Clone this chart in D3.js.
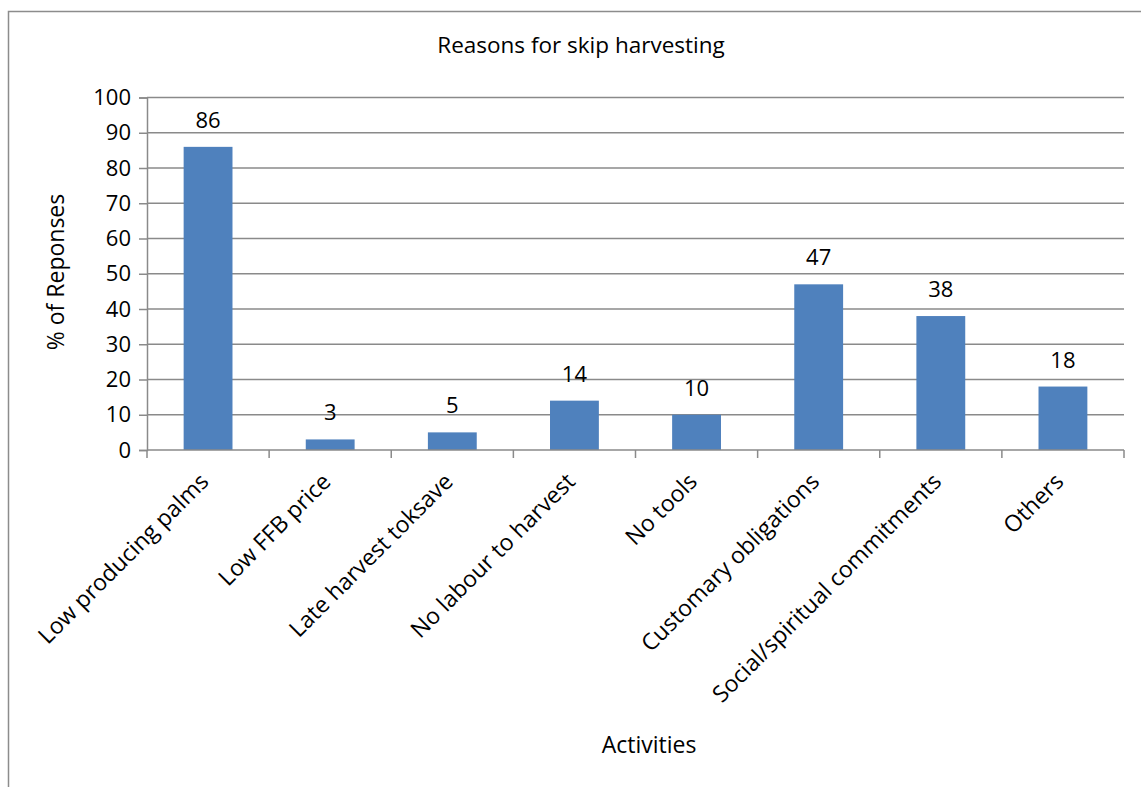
<!DOCTYPE html>
<html>
<head>
<meta charset="utf-8">
<script src="https://cdn.jsdelivr.net/npm/d3@7"></script>
<style>
  html, body { margin: 0; padding: 0; background: #fff; }
  svg { display: block; font-family: "Open Sans", "Liberation Sans", sans-serif; }
</style>
</head>
<body>
<svg id="chart" width="1141" height="787"></svg>
<script>
// Survey results: reasons given for skipping harvest rounds
const categories = [
  "Low producing palms",
  "Low FFB price",
  "Late harvest toksave",
  "No labour to harvest",
  "No tools",
  "Customary obligations",
  "Social/spiritual commitments",
  "Others"
];
const responses = [86, 3, 5, 14, 10, 47, 38, 18];
const yTicks = [0, 10, 20, 30, 40, 50, 60, 70, 80, 90, 100];

const chartTitle = "Reasons for skip harvesting";
const xTitle = "Activities";
const yTitle = "% of Reponses";

const svg = d3.select("#chart");
const W = 1141, H = 787;
const plot = { left: 147, right: 1124, top: 97.5, bottom: 450 };

// outer chart frame (only top and left edges fall inside the page)
svg.append("rect")
  .attr("x", 8.5).attr("y", 11.5)
  .attr("width", W + 20).attr("height", H + 20)
  .attr("fill", "none").attr("stroke", "#8c8c8c").attr("stroke-width", 1.5);

const x = d3.scaleBand().domain(categories).range([plot.left, plot.right]).paddingInner(0.6).paddingOuter(0.3);
const xOuter = d3.scaleBand().domain(categories).range([plot.left, plot.right]);
const y = d3.scaleLinear().domain([0, 100]).range([plot.bottom, plot.top]);

const gridColor = "#8a8a8a";

// horizontal gridlines
svg.append("g")
  .selectAll("line")
  .data(yTicks.filter(d => d > 0))
  .join("line")
  .attr("x1", plot.left).attr("x2", plot.right)
  .attr("y1", d => y(d)).attr("y2", d => y(d))
  .attr("stroke", gridColor).attr("stroke-width", 1.5);

// y axis
const yAxis = svg.append("g")
  .attr("transform", `translate(${plot.left},0)`)
  .call(d3.axisLeft(y).tickValues(yTicks).tickSize(8).tickPadding(8));
yAxis.select(".domain").attr("stroke", gridColor).attr("stroke-width", 1.5);
yAxis.selectAll(".tick line").attr("stroke", gridColor).attr("stroke-width", 1.5);
yAxis.selectAll(".tick text").attr("font-size", 22).attr("fill", "#000")
  .attr("font-family", "'Open Sans', sans-serif");

// bars
svg.append("g")
  .selectAll("rect")
  .data(responses)
  .join("rect")
  .attr("x", (d, i) => x(categories[i]))
  .attr("width", x.bandwidth())
  .attr("y", d => y(d))
  .attr("height", d => y(0) - y(d))
  .attr("fill", "#4f81bd");

// x axis with ticks at category boundaries
const xAxisG = svg.append("g").attr("transform", `translate(0,${plot.bottom})`);
xAxisG.append("line")
  .attr("x1", plot.left).attr("x2", plot.right)
  .attr("y1", 0).attr("y2", 0)
  .attr("stroke", gridColor).attr("stroke-width", 1.5);
const boundaries = categories.map(c => xOuter(c)).concat([plot.right]);
xAxisG.selectAll("line.tick")
  .data(boundaries)
  .join("line")
  .attr("class", "tick")
  .attr("x1", d => d).attr("x2", d => d)
  .attr("y1", 0).attr("y2", 8)
  .attr("stroke", gridColor).attr("stroke-width", 1.5);

// rotated category labels
xAxisG.selectAll("text")
  .data(categories)
  .join("text")
  .attr("transform", d => `translate(${xOuter(d) + xOuter.bandwidth() / 2 + 2},${33}) rotate(-45)`)
  .attr("text-anchor", "end")
  .attr("font-size", 23)
  .attr("fill", "#000")
  .text(d => d);

// value labels
svg.append("g")
  .selectAll("text")
  .data(responses)
  .join("text")
  .attr("x", (d, i) => x(categories[i]) + x.bandwidth() / 2)
  .attr("y", d => y(d) - 19)
  .attr("text-anchor", "middle")
  .attr("font-size", 22)
  .attr("fill", "#000")
  .text(d => d);

// titles
svg.append("text")
  .attr("x", 581).attr("y", 53)
  .attr("text-anchor", "middle")
  .attr("font-size", 22.5)
  .text(chartTitle);

svg.append("text")
  .attr("x", 649).attr("y", 753)
  .attr("text-anchor", "middle")
  .attr("font-size", 23)
  .text(xTitle);

svg.append("text")
  .attr("transform", `translate(64,272) rotate(-90)`)
  .attr("text-anchor", "middle")
  .attr("font-size", 23)
  .text(yTitle);
</script>
</body>
</html>
